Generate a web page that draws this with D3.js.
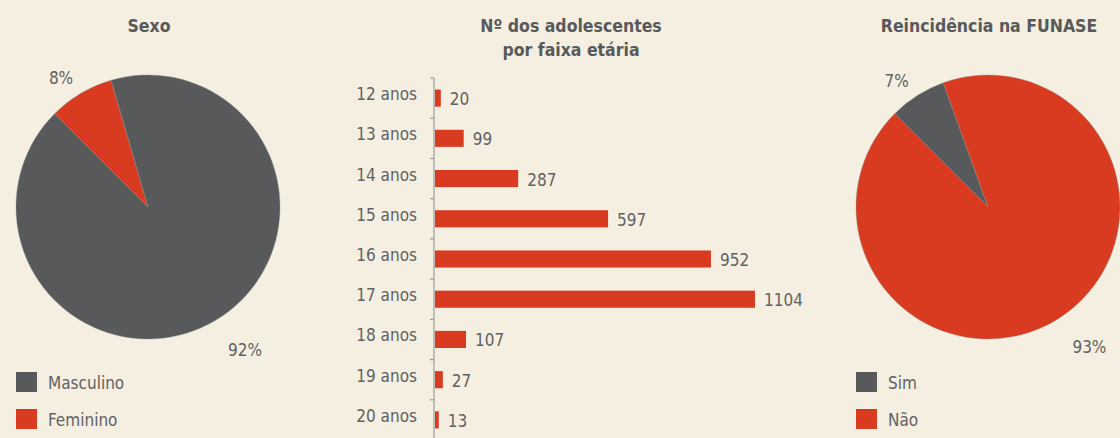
<!DOCTYPE html>
<html>
<head>
<meta charset="utf-8">
<script src="https://cdn.jsdelivr.net/npm/d3@7"></script>
<style>
  body { margin: 0; background: #f4efe0; }
  svg { display: block; font-family: "DejaVu Sans Condensed", "Liberation Sans Narrow", sans-serif; }
  .title { font-weight: bold; font-size: 17.5px; fill: #58595b; text-anchor: middle; }
  .lbl { font-size: 17px; fill: #616265; }
</style>
</head>
<body>
<svg width="1120" height="438"></svg>
<script>
// data
var sexoLabels = ["Feminino", "Masculino"];
var sexoValues = [8, 92];
var reincLabels = ["Sim", "Não"];
var reincValues = [7, 93];
var idades = ["12 anos", "13 anos", "14 anos", "15 anos", "16 anos", "17 anos", "18 anos", "19 anos", "20 anos"];
var adolescentes = [20, 99, 287, 597, 952, 1104, 107, 27, 13];

const gray = "#58595b", red = "#d93b20";

var svg = d3.select("svg");
svg.append("rect").attr("width", 1120).attr("height", 438).attr("fill", "#f4efe0");

// pies: small slice first, starting at -45deg
var pie = d3.pie().sort(null)
  .startAngle(-Math.PI / 4)
  .endAngle(2 * Math.PI - Math.PI / 4);

function drawPie(cx, title, labels, values, colors, legendOrder) {
  var g = svg.append("g").attr("transform", "translate(" + cx + ",207)");
  var arc = d3.arc().innerRadius(0).outerRadius(132);
  var labelArc = d3.arc().innerRadius(165).outerRadius(165);
  var arcs = pie(values);

  g.selectAll("path")
    .data(arcs)
    .enter()
    .append("path")
    .attr("d", arc)
    .attr("fill", function(d, i) { return colors[i]; })
    .attr("stroke", "#8a8a8a")
    .attr("stroke-width", 0.4);

  g.selectAll(".pct")
    .data(arcs)
    .enter()
    .append("text")
    .attr("class", "lbl pct")
    .attr("text-anchor", "middle")
    .attr("x", function(d) { return labelArc.centroid(d)[0] + (d.index ? 13 : -3); })
    .attr("y", function(d) { return labelArc.centroid(d)[1] + (d.index ? 7 : 19); })
    .text(function(d) { return d.data + "%"; });

  svg.append("text")
    .attr("class", "title")
    .attr("x", cx + 1)
    .attr("y", 32)
    .text(title);

  // legend
  var lg = svg.append("g").attr("transform", "translate(" + (cx - 132) + ",372)");
  legendOrder.forEach(function(i, k) {
    lg.append("rect")
      .attr("x", 0).attr("y", k * 37)
      .attr("width", 21).attr("height", 20)
      .attr("fill", colors[i]);
    lg.append("text")
      .attr("class", "lbl")
      .attr("x", 32).attr("y", k * 37 + 17)
      .text(labels[i]);
  });
}

drawPie(148, "Sexo", sexoLabels, sexoValues, [red, gray], [1, 0]);
drawPie(988, "Reincidência na FUNASE", reincLabels, reincValues, [gray, red], [0, 1]);

// bar chart
var x = d3.scaleLinear().domain([0, 1104]).range([435, 755]);
var y = d3.scaleBand().domain(idades).range([78, 440])
  .paddingInner(0.575).paddingOuter(0.2875);

var t = svg.append("text").attr("class", "title");
t.append("tspan").attr("x", 571).attr("y", 32).text("Nº dos adolescentes");
t.append("tspan").attr("x", 571).attr("y", 56).text("por faixa etária");

var bg = svg.append("g");
bg.append("line")
  .attr("x1", 434).attr("x2", 434)
  .attr("y1", y.range()[0]).attr("y2", 440)
  .attr("stroke", "#9a9a9a").attr("stroke-width", 1.2);

// ticks at band boundaries
var gap = (y.step() - y.bandwidth()) / 2;
bg.selectAll(".tick")
  .data(idades)
  .enter()
  .append("line")
  .attr("x1", 430).attr("x2", 434)
  .attr("y1", function(d) { return y(d) - gap; })
  .attr("y2", function(d) { return y(d) - gap; })
  .attr("stroke", "#9a9a9a").attr("stroke-width", 1.2);

bg.selectAll(".bar")
  .data(adolescentes)
  .enter()
  .append("rect")
  .attr("x", x(0))
  .attr("y", function(d, i) { return y(idades[i]); })
  .attr("width", function(d) { return x(d) - x(0); })
  .attr("height", y.bandwidth())
  .attr("fill", red);

bg.selectAll(".val")
  .data(adolescentes)
  .enter()
  .append("text")
  .attr("class", "lbl")
  .attr("x", function(d) { return x(d) + 9; })
  .attr("y", function(d, i) { return y(idades[i]) + y.bandwidth() / 2 + 7; })
  .text(function(d) { return d; });

bg.selectAll(".cat")
  .data(idades)
  .enter()
  .append("text")
  .attr("class", "lbl")
  .attr("text-anchor", "end")
  .attr("x", 417)
  .attr("y", function(d) { return y(d) + y.bandwidth() / 2 + 2; })
  .text(function(d) { return d; });
</script>
</body>
</html>
